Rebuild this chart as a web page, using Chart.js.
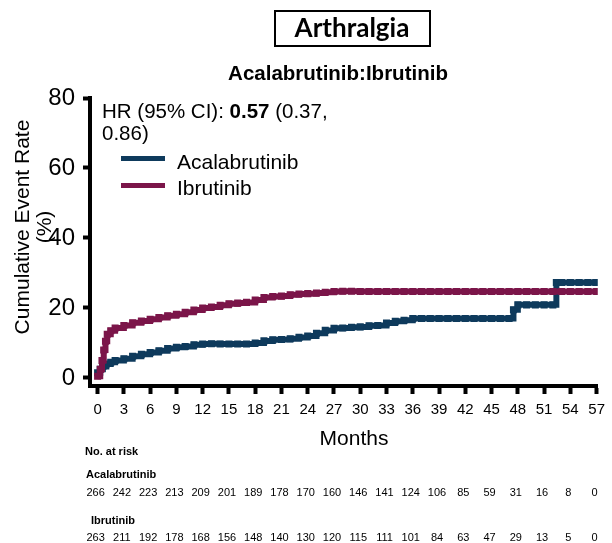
<!DOCTYPE html>
<html>
<head>
<meta charset="utf-8">
<script src="https://cdn.jsdelivr.net/npm/chart.js@4.4.1/dist/chart.umd.min.js"></script>
<style>
  html, body { margin: 0; padding: 0; background: #ffffff; }
  #wrap { position: relative; width: 612px; height: 543px; }
  canvas { display: block; }
</style>
</head>
<body>
<div id="wrap"><canvas id="km" width="612" height="543"></canvas></div>
<script>
// Cumulative incidence of arthralgia by treatment arm (months, %)
const acalaMonths = [0, 0.3, 0.6, 1, 1.5, 2, 3, 4, 5, 6, 7, 8, 9, 10, 11, 12, 13, 14, 15, 16, 17, 18, 19, 20, 21, 22, 23, 24, 25, 26, 27, 28, 29, 30, 31, 32, 33, 34, 35, 36, 37, 38, 39, 40, 41, 42, 43, 44, 45, 46, 47, 47.5, 48, 49, 50, 51, 52, 52.4, 53, 54, 55, 56, 56.9];
const acalaRate   = [1.5, 2.5, 3.3, 4.0, 4.5, 5.0, 5.5, 6.2, 6.8, 7.3, 7.8, 8.4, 8.8, 9.0, 9.5, 9.7, 9.8, 9.7, 9.7, 9.7, 9.7, 10.0, 10.6, 10.9, 11.0, 11.2, 11.6, 12.0, 12.8, 13.6, 14.2, 14.3, 14.5, 14.6, 14.9, 15.0, 15.7, 16.2, 16.5, 17.0, 17.0, 17.0, 17.0, 17.0, 17.0, 17.0, 17.0, 17.0, 17.0, 17.0, 17.0, 19.5, 20.9, 20.9, 20.9, 20.9, 20.9, 27.3, 27.3, 27.3, 27.3, 27.3, 27.3];

const ibruMonths = [0, 0.3, 0.5, 0.7, 0.9, 1.1, 1.5, 2, 3, 4, 5, 6, 7, 8, 9, 10, 11, 12, 13, 14, 15, 16, 17, 18, 19, 20, 21, 22, 23, 24, 25, 26, 27, 28, 29, 30, 31, 32, 33, 34, 35, 36, 37, 38, 39, 40, 41, 42, 43, 44, 45, 46, 47, 48, 49, 50, 51, 52, 53, 54, 55, 56, 57];
const ibruRate   = [0.5, 2.5, 5.0, 8.0, 10.5, 12.5, 13.5, 14.3, 15.0, 15.8, 16.3, 16.8, 17.3, 17.8, 18.2, 18.8, 19.4, 20.0, 20.3, 20.8, 21.2, 21.4, 21.6, 22.3, 23.0, 23.3, 23.4, 23.8, 24.0, 24.1, 24.3, 24.5, 24.7, 24.8, 24.8, 24.7, 24.7, 24.7, 24.7, 24.7, 24.7, 24.7, 24.7, 24.7, 24.7, 24.7, 24.7, 24.7, 24.7, 24.7, 24.7, 24.7, 24.7, 24.7, 24.7, 24.7, 24.7, 24.7, 24.7, 24.7, 24.7, 24.7, 24.7];

// Axis ticks
const xTickMonths = [0, 3, 6, 9, 12, 15, 18, 21, 24, 27, 30, 33, 36, 39, 42, 45, 48, 51, 54, 57];
const yTickValues = [0, 20, 40, 60, 80];

// Number at risk at each x tick
const acalaAtRisk = [266, 242, 223, 213, 209, 201, 189, 178, 170, 160, 146, 141, 124, 106, 85, 59, 31, 16, 8, 0];
const ibruAtRisk  = [263, 211, 192, 178, 168, 156, 148, 140, 130, 120, 115, 111, 101, 84, 63, 47, 29, 13, 5, 0];

const armNames = ['Acalabrutinib', 'Ibrutinib'];
const hrText = { label: 'HR (95% CI): ', hr: '0.57', ci1: ' (0.37,', ci2: '0.86)' };

const NAVY = '#0e3a5c';
const MAROON = '#7b1549';
const SANS = '"Liberation Sans", Arial, sans-serif';

function toPoints(xs, ys) { return xs.map((x, i) => ({ x: x, y: ys[i] })); }

const decorations = {
  id: 'decorations',
  afterDraw(chart) {
    const ctx = chart.ctx;
    const xs = chart.scales.x;
    ctx.save();
    ctx.fillStyle = '#000';
    ctx.textBaseline = 'alphabetic';

    // Boxed panel title
    ctx.font = 'bold 26px Lato, "Liberation Sans", sans-serif';
    ctx.textAlign = 'center';
    ctx.fillText('Arthralgia', 352, 37);
    ctx.lineWidth = 2;
    ctx.strokeStyle = '#000';
    ctx.strokeRect(275, 11, 155, 35);

    // Comparison subtitle
    ctx.font = 'bold 20.5px ' + SANS;
    ctx.fillText('Acalabrutinib:Ibrutinib', 338, 80);

    // Y axis title (two lines)
    ctx.font = '21px ' + SANS;
    ctx.save();
    ctx.translate(29, 227);
    ctx.rotate(-Math.PI / 2);
    ctx.fillText('Cumulative Event Rate', 0, 0);
    ctx.restore();
    ctx.save();
    ctx.translate(51, 227);
    ctx.rotate(-Math.PI / 2);
    ctx.fillText('(%)', 0, 0);
    ctx.restore();

    // X axis title
    ctx.font = '21px ' + SANS;
    ctx.fillText('Months', 354, 445);

    // Hazard ratio annotation
    ctx.textAlign = 'left';
    ctx.font = '20.5px ' + SANS;
    let x = 102;
    ctx.fillText(hrText.label, x, 118);
    x += ctx.measureText(hrText.label).width;
    ctx.font = 'bold 20.5px ' + SANS;
    ctx.fillText(hrText.hr, x, 118);
    x += ctx.measureText(hrText.hr).width;
    ctx.font = '20.5px ' + SANS;
    ctx.fillText(hrText.ci1, x, 118);
    ctx.fillText(hrText.ci2, 102, 140);

    // Legend
    const legendColors = [NAVY, MAROON];
    const lineY = [158.5, 185.5];
    const textY = [169, 195];
    ctx.font = '21px ' + SANS;
    legendColors.forEach((c, i) => {
      ctx.fillStyle = c;
      ctx.fillRect(121, lineY[i] - 2.5, 44, 5);
      ctx.fillStyle = '#000';
      ctx.fillText(armNames[i], 177, textY[i]);
    });

    // Number at risk table
    ctx.font = 'bold 11px ' + SANS;
    ctx.fillText('No. at risk', 85, 455);
    ctx.fillText(armNames[0], 86, 478);
    ctx.fillText(armNames[1], 91, 524);
    ctx.font = '11px ' + SANS;
    ctx.textAlign = 'center';
    xTickMonths.forEach((m, i) => {
      const px = xs.getPixelForValue(m);
      ctx.fillText(String(acalaAtRisk[i]), px - 2, 496);
      ctx.fillText(String(ibruAtRisk[i]), px - 2, 541);
    });
    ctx.restore();
  }
};

new Chart(document.getElementById('km'), {
  type: 'line',
  data: {
    datasets: [
      {
        label: armNames[1],
        data: toPoints(ibruMonths, ibruRate),
        borderColor: MAROON,
        backgroundColor: MAROON,
        borderWidth: 6,
        stepped: true,
        pointStyle: 'rect',
        pointRadius: 5,
        pointBorderWidth: 0,
        pointBackgroundColor: MAROON
      },
      {
        label: armNames[0],
        data: toPoints(acalaMonths, acalaRate),
        borderColor: NAVY,
        backgroundColor: NAVY,
        borderWidth: 6,
        stepped: true,
        pointStyle: 'rect',
        pointRadius: 5,
        pointBorderWidth: 0,
        pointBackgroundColor: NAVY
      }
    ]
  },
  options: {
    responsive: false,
    animation: false,
    devicePixelRatio: 1,
    layout: { padding: { top: 98, right: 10, left: 0, bottom: 0 } },
    plugins: { legend: { display: false }, tooltip: { enabled: false } },
    scales: {
      x: {
        type: 'linear',
        min: -0.87,
        max: 57.13,
        afterFit(scale) { scale.height = 157; },
        afterBuildTicks(scale) { scale.ticks = xTickMonths.map(v => ({ value: v })); },
        border: { display: true, width: 4, color: '#000' },
        grid: { display: true, drawOnChartArea: false, drawTicks: true, tickLength: 8, tickWidth: 4, color: '#000' },
        ticks: { font: { family: SANS, size: 15 }, color: '#000', padding: 7, maxRotation: 0, autoSkip: false }
      },
      y: {
        type: 'linear',
        min: -2.286,
        max: 80,
        afterFit(scale) { scale.width = 90; },
        afterBuildTicks(scale) { scale.ticks = yTickValues.map(v => ({ value: v })); },
        border: { display: true, width: 4, color: '#000' },
        grid: { display: true, drawOnChartArea: false, drawTicks: true, tickLength: 7, tickWidth: 4, color: '#000' },
        ticks: { font: { family: SANS, size: 24 }, color: '#000', padding: 8 }
      }
    }
  },
  plugins: [decorations]
});
</script>
</body>
</html>
